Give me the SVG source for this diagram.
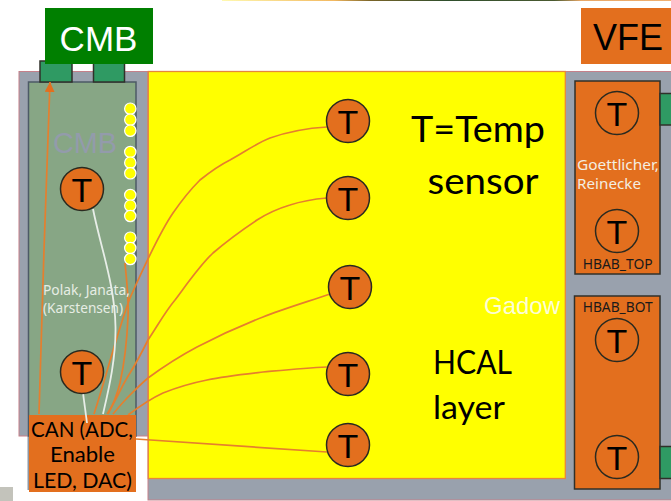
<svg xmlns="http://www.w3.org/2000/svg" width="671" height="501" viewBox="0 0 671 501">
<style>
text{font-family:"Liberation Sans",Arial,sans-serif}
.t{fill:#e36f1e;stroke:#2a2a20;stroke-width:1.5}
.tt{font-size:34px;fill:#000;text-anchor:middle}
.w{stroke:#e57f2e;stroke-width:1.7;fill:none}
.wh{stroke:#e8eee8;stroke-width:1.8;fill:none}
.y{fill:#ffff00;stroke:#fff;stroke-width:1.2}
.g{fill:#2f9a63;stroke:#30302a;stroke-width:1.5}
.big{font-family:Lato,"Liberation Sans",sans-serif;fill:#000}
.can{font-family:Lato,"Liberation Sans",sans-serif;font-size:21.5px;fill:#000}
.sm{font-family:"Noto Sans","Liberation Sans",sans-serif;font-size:14px;fill:#1a1a1a}
.lab{font-family:"Noto Sans","Liberation Sans",sans-serif;font-size:15px;fill:#f3eee2}
.pol{font-family:"Noto Sans","Liberation Sans",sans-serif;font-size:13.5px;fill:#e6ede4}
</style>
<defs>
<marker id="a" markerWidth="11" markerHeight="11" refX="10" refY="5" orient="auto" markerUnits="userSpaceOnUse"><path d="M0 0L10 5L0 10Z" fill="#e36f1e"/></marker>
<linearGradient id="strip" gradientUnits="userSpaceOnUse" x1="222" y1="0" x2="671" y2="0">
<stop offset="0" stop-color="#fff9b0"/><stop offset="0.25" stop-color="#f2b860"/><stop offset="0.33" stop-color="#7a6428"/><stop offset="0.5" stop-color="#2e4e2c"/><stop offset="0.74" stop-color="#4a5a30"/><stop offset="0.8" stop-color="#e8a868"/><stop offset="1" stop-color="#f0b070"/>
</linearGradient>
</defs>
<rect width="671" height="501" fill="#fff"/>
<rect x="222" y="0" width="449" height="1" fill="url(#strip)"/>
<rect x="0" y="487" width="13" height="14" fill="#c3c3bb"/>
<g id="backplane">
<rect x="19" y="71.500" width="129" height="364.500" fill="#99a1ad" stroke="#c5808a" stroke-width="1"/>
<rect x="148" y="71.500" width="523.500" height="428.500" fill="#99a1ad" stroke="#c5808a" stroke-width="1"/>
<rect x="27.500" y="430" width="2" height="60" fill="#8c95a2"/>
</g>
<g id="cmb-board">
<rect x="28.500" y="82" width="107.500" height="354" fill="#87a685" stroke="#4c5a66" stroke-width="1.500"/>
<text x="85" y="153" font-size="30" fill="#939bab" text-anchor="middle" textLength="64" lengthAdjust="spacingAndGlyphs">CMB</text>
<rect x="40" y="61" width="32" height="21" class="g"/>
<rect x="93.500" y="61" width="31" height="21" class="g"/>
</g>
<g id="hcal-layer">
<rect x="148.300" y="71.500" width="417" height="407" fill="#ffff00" stroke="#e6873c" stroke-width="1.300"/>
</g>
<g id="leds">
<circle cx="130.300" cy="108.700" r="5.700" class="y"/><circle cx="130.300" cy="119.700" r="5.700" class="y"/><circle cx="130.300" cy="130.700" r="5.700" class="y"/>
<circle cx="130.300" cy="152" r="5.700" class="y"/><circle cx="130.300" cy="162.700" r="5.700" class="y"/><circle cx="130.300" cy="173.300" r="5.700" class="y"/>
<circle cx="130.300" cy="195" r="5.700" class="y"/><circle cx="130.300" cy="205.700" r="5.700" class="y"/><circle cx="130.300" cy="216" r="5.700" class="y"/>
<circle cx="130.300" cy="237.700" r="5.700" class="y"/><circle cx="130.300" cy="248" r="5.700" class="y"/><circle cx="130.300" cy="259" r="5.700" class="y"/>
</g>
<g id="connectors">
<path class="w" d="M39 414L44 250L50 82" marker-end="url(#a)"/>
<path class="w" d="M94 414C105 380 118 330 130 298C138 280 160 232 173 213C182 200 190 190 200 180C210 172 218 166 230 160C245 152 255 144 270 138C290 131 310 128 327 127"/>
<path class="w" d="M107 414C115 403 122 385 130 373C138 360 143 350 148 340C158 325 165 312 175 300C187 284 200 265 213 253C228 240 242 230 257 220C268 213 280 208 290 205C302 201 315 199 327 198"/>
<path class="w" d="M113 414C118 408 124 401 130 395C135 390 142 383 148 378C163 367 180 356 197 347C220 335 240 326 263 317C280 310 300 304 330 294"/>
<path class="w" d="M128 415C140 406 150 399 163 393C178 387 192 383 207 380C225 376 245 374 263 372C285 370 305 368 327 367"/>
<path class="w" d="M136 439L327 452"/>
<path class="w" d="M125 263C127 285 129 300 128 317C127 340 124 365 120 383C117 395 113 405 108 414"/>
<path class="wh" d="M93 209C100 245 115 285 115.500 327C116 360 108 392 103 414"/>
</g>
<g id="can-box">
<rect x="29" y="415" width="107" height="77" fill="#e36f1e"/>
<text class="can" x="31" y="436.500" textLength="102" lengthAdjust="spacingAndGlyphs">CAN (ADC,</text>
<text class="can" x="50" y="462" textLength="65" lengthAdjust="spacingAndGlyphs">Enable</text>
<text class="can" x="33" y="488" textLength="99" lengthAdjust="spacingAndGlyphs">LED, DAC)</text>
<path class="wh" d="M83 393L87 423"/>
</g>
<g id="cmb-label">
<rect x="45" y="8" width="108" height="56" fill="#007f00"/>
<text x="98.500" y="50.500" font-size="35" fill="#fff" text-anchor="middle">CMB</text>
</g>
<g id="vfe-label">
<rect x="581" y="8" width="90" height="56" fill="#e36f1e"/>
<text x="628" y="50" font-size="36" fill="#000" text-anchor="middle">VFE</text>
</g>
<g id="hbab-top">
<rect x="575" y="81" width="85" height="193" fill="#e36f1e" stroke="#30302a" stroke-width="1.500"/>
<text class="lab" x="577" y="170" textLength="82" lengthAdjust="spacingAndGlyphs">Goettlicher,</text>
<text class="lab" x="577" y="189.300" textLength="64" lengthAdjust="spacingAndGlyphs">Reinecke</text>
<text class="sm" x="582.700" y="269.300" textLength="70" lengthAdjust="spacingAndGlyphs">HBAB_TOP</text>
</g>
<g id="hbab-bot">
<rect x="574.500" y="296" width="85.500" height="193" fill="#e36f1e" stroke="#30302a" stroke-width="1.500"/>
<text class="sm" x="582.700" y="312.300" textLength="70" lengthAdjust="spacingAndGlyphs">HBAB_BOT</text>
</g>
<g id="connector-right">
<rect x="660" y="93.500" width="12" height="31.500" class="g"/>
<rect x="660" y="446.500" width="12" height="32" class="g"/>
</g>
<g id="labels">
<text class="pol" x="43" y="295" textLength="87" lengthAdjust="spacingAndGlyphs">Polak, Janata,</text>
<text class="pol" x="43" y="312.700" textLength="80" lengthAdjust="spacingAndGlyphs">(Karstensen)</text>
<text x="484" y="314" font-size="24" fill="#fdfdd8" textLength="76" lengthAdjust="spacingAndGlyphs">Gadow</text>
<text class="big" font-size="37" x="411" y="141.700" textLength="134" lengthAdjust="spacingAndGlyphs">T=Temp</text>
<text class="big" font-size="37" x="427.500" y="194" textLength="111" lengthAdjust="spacingAndGlyphs">sensor</text>
<text class="big" font-size="32" x="433" y="374.300" textLength="79" lengthAdjust="spacingAndGlyphs">HCAL</text>
<text class="big" font-size="32" x="433" y="419.300" textLength="72" lengthAdjust="spacingAndGlyphs">layer</text>
</g>
<g id="sensor-cmb1"><circle class="t" cx="82" cy="189" r="21.500"/><text class="tt" x="82" y="202">T</text></g>
<g id="sensor-cmb2"><circle class="t" cx="82" cy="372" r="21.500"/><text class="tt" x="82" y="385">T</text></g>
<g id="sensor-1"><circle class="t" cx="348" cy="121" r="21.500"/><text class="tt" x="348" y="134">T</text></g>
<g id="sensor-2"><circle class="t" cx="348" cy="198" r="21.500"/><text class="tt" x="348" y="211">T</text></g>
<g id="sensor-3"><circle class="t" cx="350" cy="287" r="21.500"/><text class="tt" x="350" y="300">T</text></g>
<g id="sensor-4"><circle class="t" cx="348" cy="374" r="21.500"/><text class="tt" x="348" y="387">T</text></g>
<g id="sensor-5"><circle class="t" cx="348" cy="445" r="21.500"/><text class="tt" x="348" y="458">T</text></g>
<g id="sensor-r1"><circle class="t" cx="617" cy="113" r="21.500"/><text class="tt" x="617" y="126">T</text></g>
<g id="sensor-r2"><circle class="t" cx="617" cy="231" r="21.500"/><text class="tt" x="617" y="244">T</text></g>
<g id="sensor-r3"><circle class="t" cx="617" cy="340" r="21.500"/><text class="tt" x="617" y="353">T</text></g>
<g id="sensor-r4"><circle class="t" cx="617" cy="457" r="21.500"/><text class="tt" x="617" y="470">T</text></g>
</svg>
